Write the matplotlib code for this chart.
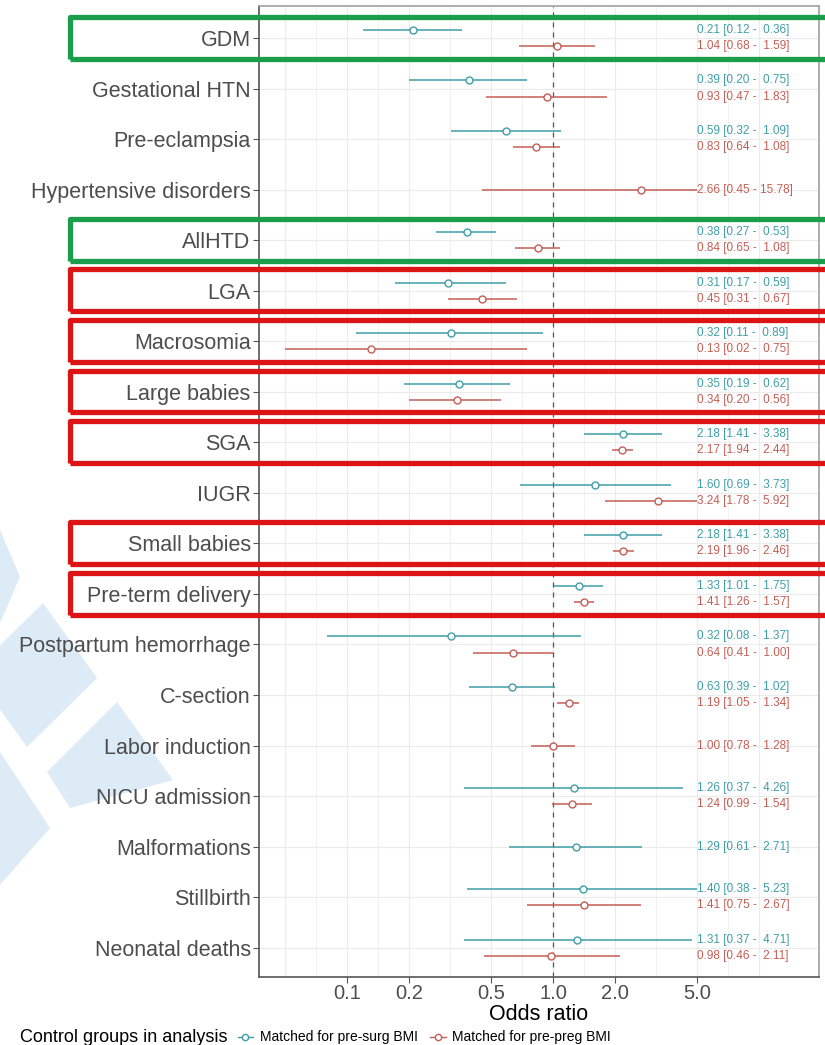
import matplotlib
matplotlib.use("Agg")
import matplotlib.pyplot as plt
import numpy as np
from matplotlib import transforms
from matplotlib.lines import Line2D
from matplotlib.patches import Polygon, Rectangle

plt.rcParams['font.family'] = ['Liberation Sans', 'DejaVu Sans']

outcomes = ["GDM", "Gestational HTN", "Pre-eclampsia", "Hypertensive disorders", "AllHTD",
            "LGA", "Macrosomia", "Large babies", "SGA", "IUGR", "Small babies",
            "Pre-term delivery", "Postpartum hemorrhage", "C-section", "Labor induction",
            "NICU admission", "Malformations", "Stillbirth", "Neonatal deaths"]

# matched for pre-surgery BMI (None = no estimate)
surg_or = [0.21, 0.39, 0.59, None, 0.38, 0.31, 0.32, 0.35, 2.18, 1.60, 2.18, 1.33, 0.32, 0.63, None, 1.26, 1.29, 1.40, 1.31]
surg_lo = [0.12, 0.20, 0.32, None, 0.27, 0.17, 0.11, 0.19, 1.41, 0.69, 1.41, 1.01, 0.08, 0.39, None, 0.37, 0.61, 0.38, 0.37]
surg_hi = [0.36, 0.75, 1.09, None, 0.53, 0.59, 0.89, 0.62, 3.38, 3.73, 3.38, 1.75, 1.37, 1.02, None, 4.26, 2.71, 5.23, 4.71]

# matched for pre-pregnancy BMI
preg_or = [1.04, 0.93, 0.83, 2.66, 0.84, 0.45, 0.13, 0.34, 2.17, 3.24, 2.19, 1.41, 0.64, 1.19, 1.00, 1.24, None, 1.41, 0.98]
preg_lo = [0.68, 0.47, 0.64, 0.45, 0.65, 0.31, 0.02, 0.20, 1.94, 1.78, 1.96, 1.26, 0.41, 1.05, 0.78, 0.99, None, 0.75, 0.46]
preg_hi = [1.59, 1.83, 1.08, 15.78, 1.08, 0.67, 0.75, 0.56, 2.44, 5.92, 2.46, 1.57, 1.00, 1.34, 1.28, 1.54, None, 2.67, 2.11]

x_breaks = [0.1, 0.2, 0.5, 1.0, 2.0, 5.0]
x_labels = ["0.1", "0.2", "0.5", "1.0", "2.0", "5.0"]
grid_breaks = [0.05, 0.1, 0.2, 0.5, 1.0, 2.0, 5.0, 10.0]

green_boxes = ["GDM", "AllHTD"]
red_boxes = ["LGA", "Macrosomia", "Large babies", "SGA", "Small babies", "Pre-term delivery"]

TEAL = "#3F9EA8"
RED = "#C45E55"
GREY = "#4D4D4D"
W, H = 825, 1045

fig = plt.figure(figsize=(W / 100, H / 100), dpi=100, facecolor="white")

# faint watermark shapes on the left
wm = [[(0, 530), (20, 577), (0, 623)],
      [(43, 603), (97, 678), (27, 747), (-27, 672)],
      [(117, 702), (173, 780), (70, 808), (47, 772)],
      [(0, 752), (50, 828), (0, 885)]]
for poly in wm:
    pts = [(px / W, 1 - py / H) for px, py in poly]
    fig.add_artist(Polygon(pts, closed=True, transform=fig.transFigure,
                           facecolor="#DDEBF7", edgecolor="none", zorder=0))

ax = fig.add_axes([259 / W, 1 - 977 / H, (819 - 259) / W, (977 - 6) / H])
ax.set_xscale("log")
ax.set_xlim(0.0374, 19.5)
n = len(outcomes)
ypos = np.arange(n)[::-1].astype(float)
ax.set_ylim(-0.58, n - 1 + 0.633)

# grid (major + minor halfway in log space)
gb = np.log10(grid_breaks)
minor = 10 ** ((gb[:-1] + gb[1:]) / 2)
for v in list(grid_breaks) + list(minor):
    ax.axvline(v, color="#EBEBEB", lw=0.8 if v in grid_breaks else 0.5, zorder=0)
for y in ypos:
    ax.axhline(y, color="#EBEBEB", lw=0.8, zorder=0)
ax.axvline(1.0, color="#555555", lw=0.9, ls=(0, (4, 4)), zorder=1)

lo_lim, hi_lim = 0.05, 5.0
d = 0.16
for i, y in enumerate(ypos):
    has_s = surg_or[i] is not None
    has_p = preg_or[i] is not None
    series = []
    if has_s:
        series.append((surg_or[i], surg_lo[i], surg_hi[i], TEAL, y + d if has_p else y))
    if has_p:
        series.append((preg_or[i], preg_lo[i], preg_hi[i], RED, y - d if has_s else y))
    for o, lo, hi, col, yy in series:
        ax.plot([max(lo, lo_lim), min(hi, hi_lim)], [yy, yy], color=col, lw=1.1,
                solid_capstyle="butt", zorder=2)
        ax.plot([o], [yy], marker="o", ms=5, mfc="white", mec=col, mew=1.0, zorder=3)
        ax.text(5.0, yy, f"{o:.2f} [{lo:.2f} - {hi:5.2f}]", color=col, fontsize=8.5,
                ha="left", va="center", zorder=4)

ax.set_yticks(ypos)
ax.set_yticklabels(outcomes, fontsize=15.5, color=GREY)
ax.set_xticks(x_breaks)
ax.set_xticklabels(x_labels, fontsize=14.5, color=GREY)
ax.xaxis.set_minor_locator(matplotlib.ticker.NullLocator())
ax.tick_params(axis="y", length=4, width=0.8, color="#555555", pad=2)
ax.tick_params(axis="x", length=4, width=0.8, color="#555555", pad=1)
ax.set_xlabel("Odds ratio", fontsize=15.5, color="black", labelpad=1)

for s in ("left", "bottom"):
    ax.spines[s].set_color("#555555")
    ax.spines[s].set_linewidth(1.2)
for s in ("top", "right"):
    ax.spines[s].set_color("#A0A0A0")
    ax.spines[s].set_linewidth(1.2)

# highlight boxes
blend = transforms.blended_transform_factory(fig.transFigure, ax.transData)
for names, col in ((green_boxes, "#1A9E4B"), (red_boxes, "#DD1414")):
    for name in names:
        y = ypos[outcomes.index(name)]
        fig.add_artist(Rectangle((70 / W, y - 0.41), 1.05 - 70 / W, 0.83, transform=blend,
                                 fill=False, edgecolor=col, lw=3.8, joinstyle="round",
                                 zorder=10, clip_on=False))

# legend along the bottom
fig.canvas.draw()
r = fig.canvas.get_renderer()
ly = 1 - 1037 / H
t = fig.text(20 / W, ly, "Control groups in analysis", fontsize=13, ha="left", va="center")
x_px = t.get_window_extent(r).x1 + 10
for lab, col in (("Matched for pre-surg BMI", TEAL), ("Matched for pre-preg BMI", RED)):
    fig.add_artist(Line2D([x_px / W, (x_px + 16) / W], [ly, ly], transform=fig.transFigure,
                          color=col, lw=1.0))
    fig.add_artist(Line2D([(x_px + 8) / W], [ly], transform=fig.transFigure, marker="o",
                          ms=4.5, mfc="white", mec=col, mew=1.0))
    tt = fig.text((x_px + 22) / W, ly, lab, fontsize=10, ha="left", va="center")
    x_px = tt.get_window_extent(r).x1 + 12

fig.savefig("out.png", dpi=100, facecolor="white")
